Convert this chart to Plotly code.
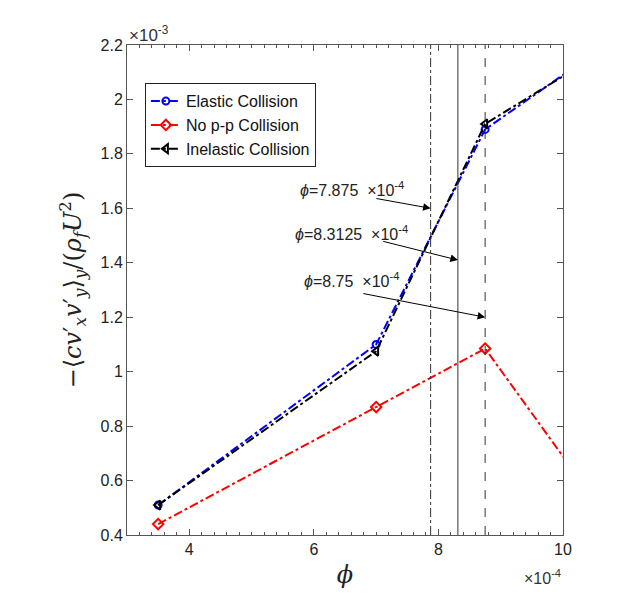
import plotly.graph_objects as go

# data (x in units of 1e-4, y in units of 1e-3)
phi = [3.5, 7.0, 8.75, 10.5]
elastic = [0.51, 1.10, 1.89, 2.17]
no_pp = [0.44, 0.87, 1.085, 0.53]
inelastic = [0.51, 1.075, 1.91, 2.155]

vlines = [7.875, 8.3125, 8.75]
vline_dash = ["dashdot", "solid", "dash"]

# arrow annotations: tail (x, y) -> head (x, y), label anchor
arrow_tail_x = [6.98, 7.09, 6.77]
arrow_tail_y = [1.637, 1.48, 1.288]
arrow_head_y = [1.60, 1.41, 1.20]
label_x = [5.745, 5.66, 5.81]
label_y = [1.67, 1.51, 1.335]
labels = ["<i>ϕ</i>=7.875  ×10<sup>-4</sup>",
          "<i>ϕ</i>=8.3125  ×10<sup>-4</sup>",
          "<i>ϕ</i>=8.75  ×10<sup>-4</sup>"]

FONT = "Liberation Sans, Arial, sans-serif"
fig = go.Figure()

fig.add_trace(go.Scatter(x=phi, y=elastic, name="Elastic Collision", mode="lines+markers",
                         line=dict(color="blue", dash="dashdot", width=2),
                         marker=dict(symbol="circle-open", size=7, color="blue", line=dict(width=2))))
fig.add_trace(go.Scatter(x=phi, y=no_pp, name="No p-p Collision", mode="lines+markers",
                         line=dict(color="red", dash="dashdot", width=2),
                         marker=dict(symbol="diamond-open", size=8, color="red", line=dict(width=2))))
fig.add_trace(go.Scatter(x=phi, y=inelastic, name="Inelastic Collision", mode="lines+markers",
                         line=dict(color="black", dash="dashdot", width=2),
                         marker=dict(symbol="triangle-left-open", size=8, color="black", line=dict(width=2))))

for xv, d in zip(vlines, vline_dash):
    fig.add_trace(go.Scatter(x=[xv, xv], y=[0.4, 2.2], mode="lines", showlegend=False,
                             line=dict(color="#333333", width=1, dash=d), hoverinfo="skip"))

for tx, ty, hx, hy in zip(arrow_tail_x, arrow_tail_y, vlines, arrow_head_y):
    fig.add_annotation(x=hx, y=hy, ax=tx, ay=ty, xref="x", yref="y", axref="x", ayref="y",
                       text="", showarrow=True, arrowhead=2, arrowsize=1.5, arrowwidth=1,
                       arrowcolor="black")

for lx, ly, t in zip(label_x, label_y, labels):
    fig.add_annotation(x=lx, y=ly, xref="x", yref="y", text=t, showarrow=False,
                       xanchor="left", yanchor="middle", font=dict(size=16, color="#222"))

fig.add_annotation(x=0, y=1, xref="paper", yref="paper", text="×10<sup>-3</sup>", showarrow=False,
                   xanchor="left", yanchor="bottom", yshift=-2, font=dict(size=17, color="#333"))
fig.add_annotation(x=1, y=0, xref="paper", yref="paper", text="×10<sup>-4</sup>", showarrow=False,
                   xanchor="right", yanchor="top", yshift=-30, font=dict(size=16, color="#333"))

axis_common = dict(showline=True, linecolor="#555", linewidth=1, mirror="allticks",
                   ticks="inside", tickcolor="#555", ticklen=6, showgrid=False, zeroline=False,
                   tickfont=dict(size=16, color="#222", family=FONT), automargin=False)

fig.update_xaxes(range=[3, 10], dtick=2, tick0=0,
                 minor=dict(ticks="inside", dtick=0.2, ticklen=3, tickcolor="#555"),
                 title=dict(text="<i>ϕ</i>", font=dict(size=24, color="#222", family="DejaVu Serif"),
                            standoff=8),
                 **axis_common)
fig.update_yaxes(range=[0.4, 2.2], dtick=0.2, tickformat="~g",
                 title=dict(text="−⟨<i>cv</i>′<sub><i>x</i></sub><i>v</i>′<sub><i>y</i></sub>⟩<sub><i>y</i></sub>"
                                 "/(<i>ρ</i><sub><i>f</i></sub><i>U</i><sup>2</sup>)",
                            font=dict(size=24, color="#222", family="DejaVu Serif"), standoff=12),
                 **axis_common)

# page body adds an 8px offset, so the figure is drawn a little smaller than the window
fig.update_layout(width=615, height=599, plot_bgcolor="white", paper_bgcolor="white",
                  margin=dict(l=119, r=60, t=37, b=72),
                  font=dict(family=FONT),
                  legend=dict(x=0.041, y=0.922, xanchor="left", yanchor="top",
                              bordercolor="#222", borderwidth=1, bgcolor="white",
                              font=dict(size=16, color="#111", family=FONT),
                              tracegroupgap=0))

fig.write_html("out.html")
